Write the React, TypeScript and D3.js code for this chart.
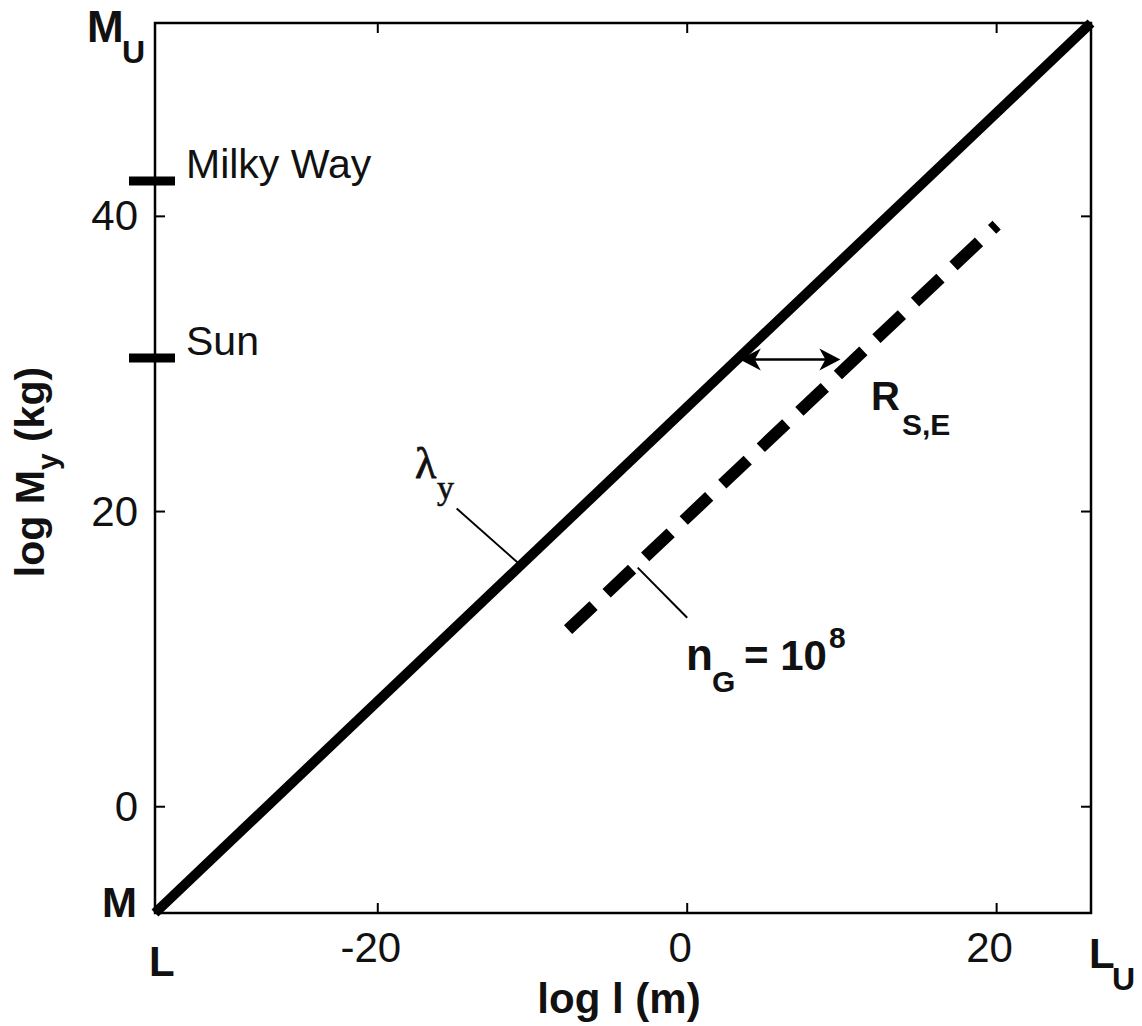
import React from "react";
import * as d3 from "d3";

// ---- data ----
const X_TICKS = [-20, 0, 20];
const Y_TICKS = [0, 20, 40];
const LOG_L = -34.4; // Planck length (L)
const LOG_LU = 26.1; // universe size (L_U)
const LOG_M = -7.2; // Planck mass (M)
const LOG_MU = 53.1; // universe mass (M_U)
const LAMBDA_LINE = [
  { x: LOG_L, y: LOG_M },
  { x: LOG_LU, y: LOG_MU },
];
const NG_LINE = [
  { x: -7.7, y: 12.0 },
  { x: 20.0, y: 39.4 },
];
const MARKER_NAMES = ["Milky Way", "Sun"];
const MARKER_VALUES = [42.4, 30.4];
const ARROW_Y = 30.3;
const ARROW_X = [3.4, 9.9];
const LAMBDA_LEADER = [
  { x: -14.9, y: 20.2 },
  { x: -10.8, y: 16.4 },
];
const NG_LEADER = [
  { x: -3.2, y: 16.2 },
  { x: 0.0, y: 12.8 },
];

const W = 1142;
const H = 1026;
const LEFT = 155;
const RIGHT = 1091;
const TOP = 23;
const BOTTOM = 913;

export default function App() {
  const x = d3.scaleLinear().domain([LOG_L, LOG_LU]).range([LEFT, RIGHT]);
  const y = d3.scaleLinear().domain([LOG_M, LOG_MU]).range([BOTTOM, TOP]);
  const line = d3
    .line<{ x: number; y: number }>()
    .x((d) => x(d.x))
    .y((d) => y(d.y));

  const sans = "'Liberation Sans', Arial, Helvetica, sans-serif";
  const serif = "'Liberation Serif', 'Times New Roman', serif";
  const tickLen = 10;

  const ax1 = x(ARROW_X[0]);
  const ax2 = x(ARROW_X[1]);
  const ay = y(ARROW_Y);
  const ah = 21; // arrowhead length
  const aw = 11; // half width
  const an = 15; // notch

  return (
    <div style={{ position: "absolute", left: 0, top: 0 }}>
      <svg width={W} height={H} style={{ display: "block", background: "#fff" }}>
        {/* lines */}
        <path d={line(LAMBDA_LINE) || ""} fill="none" stroke="#000" strokeWidth={10} />
        <path
          d={line(NG_LINE) || ""}
          fill="none"
          stroke="#000"
          strokeWidth={12}
          strokeDasharray="35 18"
        />

        {/* axes box */}
        <rect
          x={LEFT}
          y={TOP}
          width={RIGHT - LEFT}
          height={BOTTOM - TOP}
          fill="none"
          stroke="#000"
          strokeWidth={2.5}
        />
        {X_TICKS.map((t) => (
          <g key={"xt" + t}>
            <line x1={x(t)} x2={x(t)} y1={BOTTOM} y2={BOTTOM - tickLen} stroke="#000" strokeWidth={2} />
            <line x1={x(t)} x2={x(t)} y1={TOP} y2={TOP + tickLen} stroke="#000" strokeWidth={2} />
            <text
              x={x(t) - 7}
              y={962}
              textAnchor="middle"
              fontFamily={sans}
              fontSize={42}
              fill="#111"
            >
              {t}
            </text>
          </g>
        ))}
        {Y_TICKS.map((t) => (
          <g key={"yt" + t}>
            <line x1={LEFT} x2={LEFT + tickLen} y1={y(t)} y2={y(t)} stroke="#000" strokeWidth={2} />
            <line x1={RIGHT} x2={RIGHT - tickLen} y1={y(t)} y2={y(t)} stroke="#000" strokeWidth={2} />
            <text
              x={138}
              y={y(t) + 14}
              textAnchor="end"
              fontFamily={sans}
              fontSize={42}
              fill="#111"
            >
              {t}
            </text>
          </g>
        ))}

        {/* markers */}
        {MARKER_NAMES.map((name, i) => (
          <g key={name}>
            <line
              x1={LEFT - 26}
              x2={LEFT + 20}
              y1={y(MARKER_VALUES[i])}
              y2={y(MARKER_VALUES[i])}
              stroke="#000"
              strokeWidth={9}
            />
            <text
              x={186}
              y={y(MARKER_VALUES[i]) - 3}
              fontFamily={sans}
              fontSize={41}
              fill="#111"
            >
              {name}
            </text>
          </g>
        ))}

        {/* double arrow */}
        <line x1={ax1 + 4} x2={ax2 - 4} y1={ay} y2={ay} stroke="#000" strokeWidth={2.5} />
        <path
          d={`M${ax1},${ay} L${ax1 + ah},${ay - aw} L${ax1 + an},${ay} L${ax1 + ah},${ay + aw} Z`}
          fill="#000"
        />
        <path
          d={`M${ax2},${ay} L${ax2 - ah},${ay - aw} L${ax2 - an},${ay} L${ax2 - ah},${ay + aw} Z`}
          fill="#000"
        />

        {/* leaders */}
        <path d={line(LAMBDA_LEADER) || ""} fill="none" stroke="#000" strokeWidth={2} />
        <path d={line(NG_LEADER) || ""} fill="none" stroke="#000" strokeWidth={2} />

        {/* annotations */}
        <text x={415} y={478} fontFamily={serif} fontSize={44} fill="#111" stroke="#111" strokeWidth={0.8}>
          λ
        </text>
        <text x={437} y={499} fontFamily={serif} fontSize={34} fill="#111" stroke="#111" strokeWidth={0.6}>
          y
        </text>

        <text x={871} y={410} fontFamily={sans} fontWeight="bold" fontSize={40} fill="#111">
          R
        </text>
        <text x={902} y={435} fontFamily={sans} fontWeight="bold" fontSize={30} fill="#111">
          S,E
        </text>

        <text x={686} y={670} fontFamily={sans} fontWeight="bold" fontSize={44} fill="#111">
          n
        </text>
        <text x={712} y={692} fontFamily={sans} fontWeight="bold" fontSize={30} fill="#111">
          G
        </text>
        <text x={744} y={670} fontFamily={sans} fontWeight="bold" fontSize={42} fill="#111">
          = 10
        </text>
        <text x={829} y={648} fontFamily={sans} fontWeight="bold" fontSize={30} fill="#111">
          8
        </text>

        {/* corner labels */}
        <text x={87} y={42} fontFamily={sans} fontWeight="bold" fontSize={44} fill="#111">
          M
        </text>
        <text x={122} y={63} fontFamily={sans} fontWeight="bold" fontSize={32} fill="#111">
          U
        </text>
        <text x={102} y={917} fontFamily={sans} fontWeight="bold" fontSize={42} fill="#111">
          M
        </text>
        <text x={149} y={976} fontFamily={sans} fontWeight="bold" fontSize={42} fill="#111">
          L
        </text>
        <text x={1089} y={968} fontFamily={sans} fontWeight="bold" fontSize={42} fill="#111">
          L
        </text>
        <text x={1112} y={990} fontFamily={sans} fontWeight="bold" fontSize={32} fill="#111">
          U
        </text>

        {/* axis labels */}
        <text
          x={(LEFT + RIGHT) / 2 - 4}
          y={1013}
          textAnchor="middle"
          fontFamily={sans}
          fontWeight="bold"
          fontSize={42}
          fill="#111"
        >
          log l (m)
        </text>
        <text
          transform={`translate(44, ${(TOP + BOTTOM) / 2 + 4}) rotate(-90)`}
          textAnchor="middle"
          fontFamily={sans}
          fontWeight="bold"
          fontSize={41}
          fill="#111"
        >
          log M
          <tspan fontSize={30} dy={14}>
            y
          </tspan>
          <tspan dy={-14}> (kg)</tspan>
        </text>
      </svg>
    </div>
  );
}
